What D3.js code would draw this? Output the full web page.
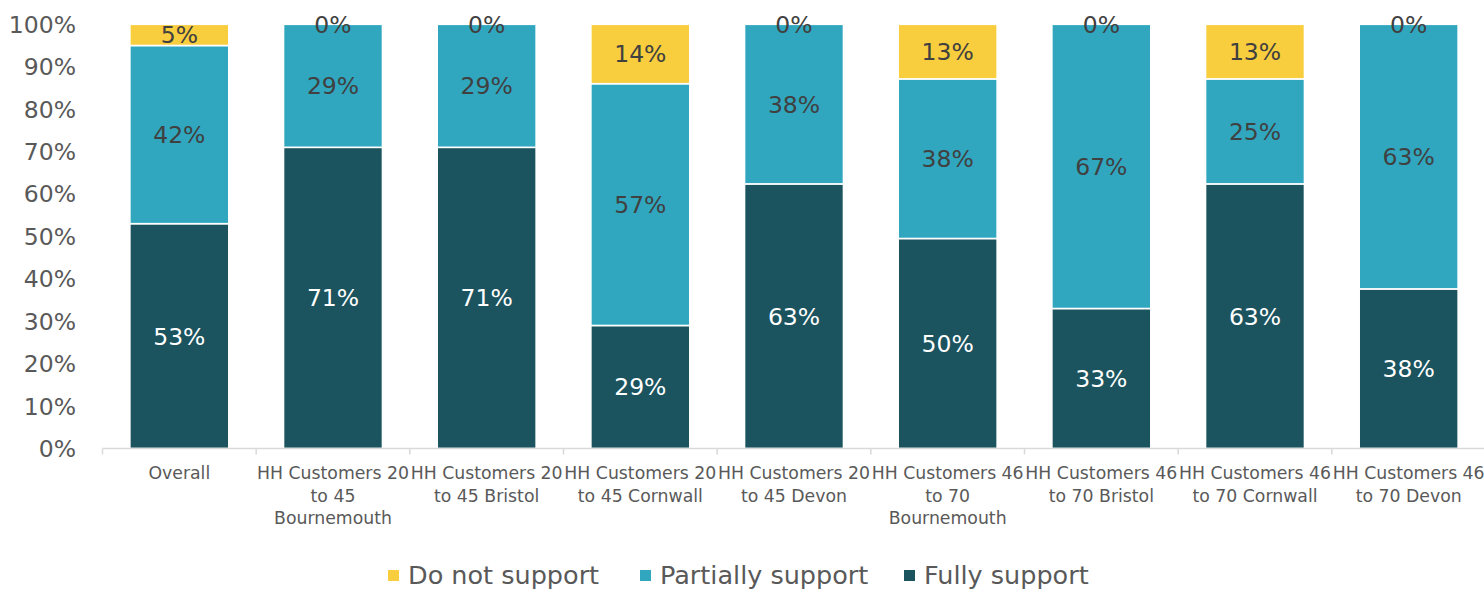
<!DOCTYPE html>
<html>
<head>
<meta charset="utf-8">
<script src="https://cdn.jsdelivr.net/npm/d3@7"></script>
<style>
  html, body { margin: 0; padding: 0; background: #fff; }
  svg { display: block; font-family: "DejaVu Sans", sans-serif; }
</style>
</head>
<body>
<svg id="chart" width="1484" height="590"></svg>
<script>
// Survey groups (x axis)
const categories = [
  "Overall",
  "HH Customers 20 to 45 Bournemouth",
  "HH Customers 20 to 45 Bristol",
  "HH Customers 20 to 45 Cornwall",
  "HH Customers 20 to 45 Devon",
  "HH Customers 46 to 70 Bournemouth",
  "HH Customers 46 to 70 Bristol",
  "HH Customers 46 to 70 Cornwall",
  "HH Customers 46 to 70 Devon"
];

// Share of respondents per response, in percent
const fullySupport     = [53, 71, 71, 29, 63, 50, 33, 63, 38];
const partiallySupport = [42, 29, 29, 57, 38, 38, 67, 25, 63];
const doNotSupport     = [5,  0,  0,  14, 0,  13, 0,  13, 0];

const seriesNames = ["Fully support", "Partially support", "Do not support"];
const legendOrder = ["Do not support", "Partially support", "Fully support"];
const yTickValues = [0, 0.1, 0.2, 0.3, 0.4, 0.5, 0.6, 0.7, 0.8, 0.9, 1.0];

const colors = {
  "Fully support": "#1B535E",
  "Partially support": "#31A7BF",
  "Do not support": "#F8CD3E"
};
const labelColors = {
  "Fully support": "#FFFFFF",
  "Partially support": "#404040",
  "Do not support": "#404040"
};

const rows = categories.map((c, i) => ({
  category: c,
  "Fully support": fullySupport[i],
  "Partially support": partiallySupport[i],
  "Do not support": doNotSupport[i]
}));

const svg = d3.select("#chart");
const margin = { left: 102.5, right: -1.5, top: 24.3, bottom: 141.5 };
const width = 1484, height = 590;

const x = d3.scaleBand()
  .domain(categories)
  .range([margin.left, width - margin.right])
  .paddingInner(0.356)
  .paddingOuter(0.178);

const y = d3.scaleLinear()
  .domain([0, 1])
  .range([height - margin.bottom, margin.top]);

// 100% stacked layout
const stack = d3.stack()
  .keys(seriesNames)
  .offset(d3.stackOffsetExpand);
const layers = stack(rows);

// Bars
const g = svg.append("g");
layers.forEach(layer => {
  g.selectAll(null)
    .data(layer)
    .join("rect")
    .attr("x", d => x(d.data.category))
    .attr("width", x.bandwidth())
    .attr("y", d => y(d[1]))
    .attr("height", d => y(d[0]) - y(d[1]))
    .attr("fill", colors[layer.key])
    .attr("stroke", "#fff")
    .attr("stroke-width", 1.6);
});

// Data labels
layers.forEach(layer => {
  g.selectAll(null)
    .data(layer)
    .join("text")
    .attr("x", d => x(d.data.category) + x.bandwidth() / 2)
    .attr("y", d => y((d[0] + d[1]) / 2))
    .attr("dy", "0.36em")
    .attr("text-anchor", "middle")
    .attr("font-size", 23.5)
    .attr("fill", labelColors[layer.key])
    .text(d => d.data[layer.key] + "%");
});

// Y axis labels (no axis line)
const yAxis = svg.append("g");
yAxis.selectAll("text")
  .data(yTickValues)
  .join("text")
  .attr("x", 76)
  .attr("y", d => y(d))
  .attr("dy", "0.36em")
  .attr("text-anchor", "end")
  .attr("font-size", 23.5)
  .attr("fill", "#595959")
  .text(d => d3.format(".0%")(d));

// X axis baseline with boundary ticks
const x0 = y(0);
const step = x.step();
const xAxis = svg.append("g");
xAxis.append("line")
  .attr("x1", margin.left).attr("x2", width)
  .attr("y1", x0).attr("y2", x0)
  .attr("stroke", "#D9D9D9").attr("stroke-width", 1.5);
xAxis.selectAll("line.tick")
  .data(d3.range(categories.length + 1))
  .join("line")
  .attr("class", "tick")
  .attr("x1", i => margin.left + i * step)
  .attr("x2", i => margin.left + i * step)
  .attr("y1", x0).attr("y2", x0 + 6)
  .attr("stroke", "#D9D9D9").attr("stroke-width", 1.5);

// Category labels, wrapped to the band step
function wrapWords(text, maxWidth, fontSize) {
  const probe = svg.append("text").attr("font-size", fontSize).attr("visibility", "hidden");
  const words = text.split(" ");
  const lines = [];
  let line = [];
  words.forEach(w => {
    line.push(w);
    probe.text(line.join(" "));
    if (probe.node().getComputedTextLength() > maxWidth && line.length > 1) {
      line.pop();
      lines.push(line.join(" "));
      line = [w];
    }
  });
  lines.push(line.join(" "));
  probe.remove();
  return lines;
}

const catFont = 17.3;
categories.forEach(c => {
  const lines = wrapWords(c, step + 4, catFont);
  const t = xAxis.append("text")
    .attr("text-anchor", "middle")
    .attr("font-size", catFont)
    .attr("fill", "#595959");
  lines.forEach((ln, i) => {
    t.append("tspan")
      .attr("x", x(c) + x.bandwidth() / 2)
      .attr("y", 479 + i * 22.5)
      .text(ln);
  });
});

// Legend
const legendItems = legendOrder.map(k => ({ key: k }));
const legend = svg.append("g");
const legendX = [388, 640, 904];
legendItems.forEach((d, i) => {
  legend.append("rect")
    .attr("x", legendX[i]).attr("y", 570)
    .attr("width", 11).attr("height", 11)
    .attr("fill", colors[d.key]);
  legend.append("text")
    .attr("x", legendX[i] + 20).attr("y", 574.5)
    .attr("dy", "0.36em")
    .attr("font-size", 25.5)
    .attr("fill", "#595959")
    .text(d.key);
});
</script>
</body>
</html>
